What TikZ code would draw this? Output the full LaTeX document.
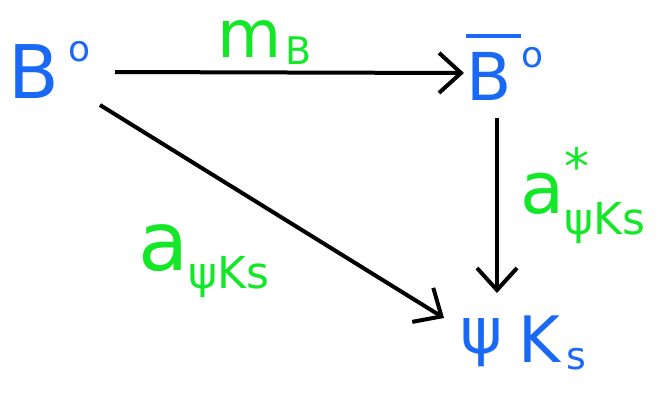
\documentclass[tikz,border=0pt]{standalone}
\usepackage{fontspec}
\setmainfont{DejaVu Sans}
\usetikzlibrary{arrows.meta}
\definecolor{nodeblue}{RGB}{25,105,245}
\definecolor{labgreen}{RGB}{20,230,40}
\newcommand\fs[1]{\fontsize{#1}{#1}\selectfont}
\newcommand\degsup{\raisebox{0.5em}{\fs{36}o}}
\newcommand\obarB{\leavevmode\vbox{\hrule height 3.5pt width 55pt\kern14pt\hbox{B}}}
\tikzset{
  state/.style={text=nodeblue,inner sep=0pt,anchor=base west},
  lab/.style={text=labgreen,inner sep=0pt,anchor=base west},
  arr/.style={-{Straight Barb[length=22pt,width=40pt,line width=4pt]},line width=4pt,black}
}
\begin{document}
\begin{tikzpicture}[x=1pt,y=-1pt]
\useasboundingbox (0,0) rectangle (672,392);
\node[state,font=\fs{74}] (B) at (8,98) {B\hspace{10pt}\degsup};
\node[state,font=\fs{66}] (Bb) at (466,100) {\obarB\degsup};
\node[state,font=\fs{64}] (PK) at (460,362) {\raisebox{0.14em}{ψ}\hspace{16pt}K\hspace{6pt}\raisebox{-0.12em}{\fs{38}s}};
\coordinate (t1) at (115,72);
\coordinate (t2) at (464,73);
\coordinate (v1) at (497,118);
\coordinate (v2) at (497,293);
\coordinate (d1) at (100,105);
\coordinate (d2) at (444,318);
\draw[arr] (t1) -- (t2);
\draw[arr] (v1) -- (v2);
\draw[arr] (d1) -- (d2);
\node[lab,font=\fs{66}] (mB) at (217,57) {m\hspace{4pt}\raisebox{-0.12em}{\fs{38}B}};
\node[lab,font=\fs{82}] (a1) at (138,270) {a\raisebox{-0.22em}{\fs{44}ψKs}};
\node[lab,font=\fs{72}] (a2) at (520,213) {a\rlap{\raisebox{0.4em}{\fs{50}*}}\raisebox{-0.3em}{\fs{44}ψKs}};
\end{tikzpicture}
\end{document}
